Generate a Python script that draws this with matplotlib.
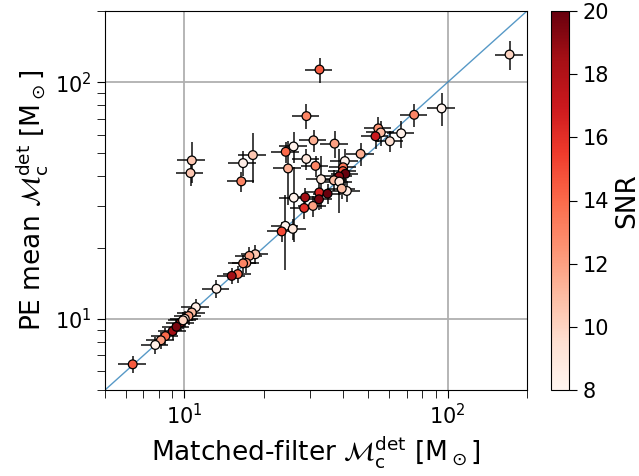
import matplotlib
matplotlib.use("Agg")
import matplotlib.pyplot as plt
import numpy as np

# matched-filter chirp mass (x), PE mean chirp mass (y), SNR
mf_mc = [10.68, 10.56, 16.72, 18.21, 16.46, 24.27, 26.0, 24.77, 26.04, 29.09,
         30.94, 29.06, 31.49, 33.05, 28.76, 32.53, 32.45, 34.99, 28.51, 30.8,
         24.19, 25.81, 23.43, 18.61, 17.66, 17.2, 16.72, 15.96, 15.14, 13.25,
         11.06, 10.68, 10.375, 10.04, 9.69, 9.03, 8.48, 8.15, 7.76, 6.37,
         32.61, 171.7, 94.8, 74.6, 54.5, 55.7, 53.2, 66.6, 60.3, 37.2,
         46.7, 40.7, 40.1, 40.0, 40.9, 38.7, 37.0, 38.8, 41.4, 39.6,
         9.89, 9.34]
pe_mc = [46.7, 41.3, 45.5, 49.2, 38.1, 50.8, 53.5, 43.2, 32.5, 71.9,
         56.8, 47.4, 44.3, 38.9, 32.6, 34.2, 32.0, 33.8, 29.4, 30.0,
         24.7, 24.0, 23.4, 18.75, 18.45, 17.23, 17.15, 15.45, 15.18, 13.39,
         11.2, 10.63, 10.27, 10.0, 9.64, 8.87, 8.45, 8.11, 7.75, 6.42,
         113.1, 130.9, 77.5, 72.8, 63.8, 61.3, 59.1, 60.8, 56.3, 55.0,
         49.8, 46.4, 43.7, 42.1, 41.0, 40.0, 38.5, 38.0, 34.7, 35.5,
         9.85, 9.25]
snr = [10.5, 10.5, 8.5, 10.5, 13, 14, 8.3, 11.5, 8.2, 13,
       11.5, 9, 13, 9, 18.5, 16.5, 19.5, 20, 16, 12,
       8.2, 9, 15, 10.5, 12, 12.5, 13, 14, 18.5, 8.2,
       8.5, 11, 12, 9, 18.5, 18.5, 14, 12, 8.3, 14.5,
       14.5, 10, 8.2, 13, 12.5, 11, 17, 8.3, 9.5, 12,
       11.5, 8.3, 13.5, 14.5, 20, 19, 11, 9, 8.5, 11,
       10, 19.5]
# relative 1-sigma errors on PE mean
pe_rel_err = [0.2, 0.12, 0.12, 0.24, 0.1, 0.1, 0.15, 0.3, 0.35, 0.12,
              0.11, 0.1, 0.1, 0.25, 0.1, 0.1, 0.1, 0.1, 0.1, 0.1,
              0.35, 0.1, 0.1, 0.09, 0.09, 0.09, 0.09, 0.08, 0.08, 0.09,
              0.08, 0.08, 0.08, 0.08, 0.08, 0.08, 0.08, 0.08, 0.08, 0.08,
              0.12, 0.14, 0.16, 0.11, 0.12, 0.12, 0.12, 0.13, 0.1, 0.13,
              0.11, 0.12, 0.1, 0.1, 0.1, 0.3, 0.1, 0.12, 0.1, 0.1,
              0.08, 0.08]
mf_rel_err = 0.12

x = np.array(mf_mc)
y = np.array(pe_mc)

plt.rcParams['mathtext.fontset'] = 'dejavusans'
fig = plt.figure(figsize=(6.39, 4.76), dpi=100)
ax = fig.add_axes([105/639, 86/476, 422/639, 379/476])
cax = fig.add_axes([551/639, 86/476, 18/639, 379/476])

ax.errorbar(x, y, xerr=mf_rel_err * x, yerr=np.array(pe_rel_err) * y,
            fmt='none', ecolor='k', elinewidth=1.3, alpha=0.8, zorder=2)
sc = ax.scatter(x, y, c=snr, cmap='Reds', vmin=8, vmax=20, s=40,
                edgecolors='k', linewidths=0.9, zorder=3)
ax.plot([5, 200], [5, 200], color='tab:blue', lw=1, alpha=0.75, zorder=1)

ax.set_xscale('log')
ax.set_yscale('log')
ax.set_xlim(5, 200)
ax.set_ylim(5, 200)
ax.set_axisbelow(True)
ax.grid(True, which='major', color='#b0b0b0', lw=1.3)
ax.tick_params(which='both', length=6, labelsize=15)

ax.set_xlabel(r'Matched-filter $\mathcal{M}_{\rm c}^{\rm det}$ [M$_\odot$]', fontsize=19)
ax.set_ylabel(r'PE mean $\mathcal{M}_{\rm c}^{\rm det}$ [M$_\odot$]', fontsize=19)

cb = fig.colorbar(sc, cax=cax)
cb.set_label('SNR', fontsize=19)
cb.ax.tick_params(labelsize=15, length=6)

fig.savefig('out.png', dpi=100)
